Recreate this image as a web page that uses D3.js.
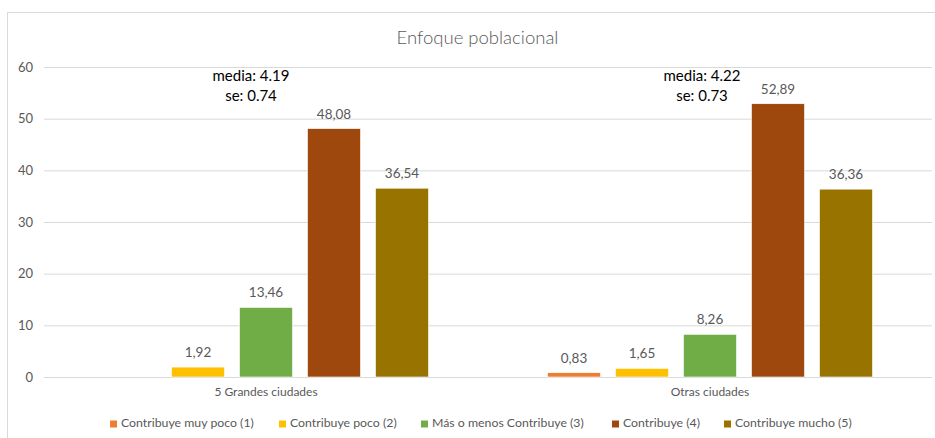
<!DOCTYPE html>
<html>
<head>
<meta charset="utf-8">
<script src="https://cdn.jsdelivr.net/npm/d3@7"></script>
<style>
  html, body { margin: 0; padding: 0; background: #fff; }
  svg { display: block; font-family: Lato, "Open Sans", sans-serif; }
</style>
</head>
<body>
<svg id="chart" width="935" height="438"></svg>
<script>
// Survey: "Enfoque poblacional" — % of answers per rating, by city group
const chartTitle = "Enfoque poblacional";
const groups = ["5 Grandes ciudades", "Otras ciudades"];
const seriesNames = [
  "Contribuye muy poco (1)",
  "Contribuye poco (2)",
  "Más o menos Contribuye (3)",
  "Contribuye (4)",
  "Contribuye mucho (5)"
];
const seriesColors = ["#ED7D31", "#FFC000", "#70AD47", "#9E480E", "#997300"];
// one row per group, one value per series (null = no answers)
const grandesValues = [null, 1.92, 13.46, 48.08, 36.54];
const otrasValues = [0.83, 1.65, 8.26, 52.89, 36.36];
const groupMeans = ["4.19", "4.22"];
const groupSE = ["0.74", "0.73"];
const yTicks = [0, 10, 20, 30, 40, 50, 60];

const values = [grandesValues, otrasValues];

const svg = d3.select("#chart");
const W = 935, H = 438;
const plot = { left: 44, right: 932, top: 67, bottom: 377 };

// frame of the chart area
svg.append("path")
  .attr("d", `M7.5,${H} V12.5 H${W}`)
  .attr("fill", "none")
  .attr("stroke", "#d9d9d9")
  .attr("stroke-width", 1);

// title
svg.append("text")
  .attr("x", 477.5).attr("y", 44)
  .attr("text-anchor", "middle")
  .attr("font-size", 18.5)
  .attr("font-weight", 300)
  .attr("fill", "#595959")
  .text(chartTitle);

const y = d3.scaleLinear().domain([0, 60]).range([plot.bottom, plot.top]);
const x0 = d3.scaleBand().domain(groups).range([plot.left, plot.right]);
const pad = 15 / 68;
const x1 = d3.scaleBand().domain(seriesNames)
  .range([x0.bandwidth() / 2 - 170, x0.bandwidth() / 2 + 170])
  .paddingInner(pad).paddingOuter(pad / 2);

// gridlines and y-axis labels
const yAxis = d3.axisLeft(y).tickValues(yTicks)
  .tickSize(-(plot.right - plot.left)).tickPadding(11)
  .tickFormat(d3.format("d"));
const gy = svg.append("g")
  .attr("transform", `translate(${plot.left},0)`)
  .call(yAxis);
gy.select(".domain").remove();
gy.selectAll(".tick line").attr("stroke", "#d9d9d9").attr("stroke-width", 1);
gy.selectAll(".tick text")
  .attr("fill", "#595959").attr("font-size", 13)
  .attr("font-family", "Lato, sans-serif");

// category axis labels
const gx = svg.append("g")
  .attr("transform", `translate(0,${plot.bottom})`)
  .call(d3.axisBottom(x0).tickSize(0).tickPadding(10));
gx.select(".domain").remove();
gx.selectAll(".tick text")
  .attr("fill", "#595959").attr("font-size", 12)
  .attr("font-family", "Lato, sans-serif");

// bars and value labels
const rows = groups.map((g, gi) => ({
  group: g,
  items: seriesNames.map((s, si) => ({ series: s, color: seriesColors[si], value: values[gi][si] }))
    .filter(d => d.value != null)
}));

const gGroups = svg.selectAll("g.grp").data(rows).join("g")
  .attr("class", "grp")
  .attr("transform", d => `translate(${x0(d.group)},0)`);

gGroups.selectAll("rect").data(d => d.items).join("rect")
  .attr("x", d => x1(d.series))
  .attr("width", x1.bandwidth())
  .attr("y", d => y(d.value))
  .attr("height", d => y(0) - y(d.value))
  .attr("fill", d => d.color)
  .attr("stroke", "#fff")
  .attr("stroke-width", 0.6);

const fmt = v => d3.format(".2f")(v).replace(".", ",");
gGroups.selectAll("text.val").data(d => d.items).join("text")
  .attr("class", "val")
  .attr("x", d => x1(d.series) + x1.bandwidth() / 2)
  .attr("y", d => y(d.value) - 10)
  .attr("text-anchor", "middle")
  .attr("font-size", 13.5)
  .attr("fill", "#595959")
  .text(d => fmt(d.value));

// mean / standard error notes above each group
const noteShift = [-15, -8];
groups.forEach((g, gi) => {
  const cx = x0(g) + x0.bandwidth() / 2 + noteShift[gi];
  const t = svg.append("text")
    .attr("text-anchor", "middle")
    .attr("font-size", 15)
    .attr("fill", "#000");
  t.append("tspan").attr("x", cx).attr("y", 81).text(`media: ${groupMeans[gi]}`);
  t.append("tspan").attr("x", cx).attr("y", 100.5).text(`se: ${groupSE[gi]}`);
});

// legend
const legendX = [110, 279, 421, 612, 724];
const lg = svg.append("g").attr("transform", "translate(0,427)");
seriesNames.forEach((s, i) => {
  lg.append("rect")
    .attr("x", legendX[i]).attr("y", -6.5)
    .attr("width", 7).attr("height", 7)
    .attr("fill", seriesColors[i]);
  lg.append("text")
    .attr("x", legendX[i] + 11).attr("y", 0)
    .attr("font-size", 12.3)
    .attr("fill", "#595959")
    .text(s);
});
</script>
</body>
</html>
